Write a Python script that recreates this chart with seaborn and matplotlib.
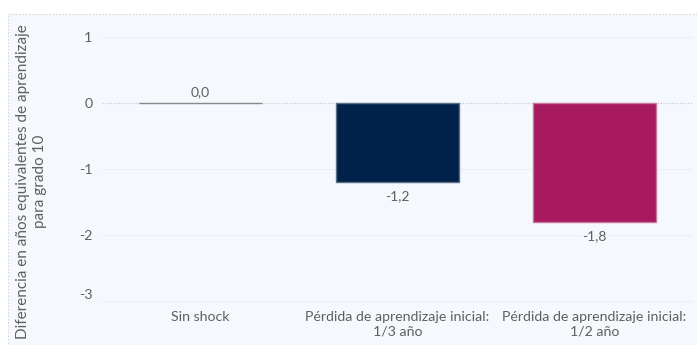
import matplotlib
matplotlib.use("Agg")
import matplotlib.pyplot as plt
import matplotlib.transforms as mtransforms
from matplotlib.patches import Rectangle
import seaborn as sns
import pandas as pd

categories = ["Sin shock",
              "Pérdida de aprendizaje inicial:\n1/3 año",
              "Pérdida de aprendizaje inicial:\n1/2 año"]
values = [0.0, -1.2, -1.8]
colors = ["#8a8a8a", "#00224a", "#a6195f"]
edge_colors = ["#8a8a8a", "#5a6f8a", "#c9749e"]
yticks = [1, 0, -1, -2, -3]

df = pd.DataFrame({"escenario": categories, "diferencia": values})

sns.set_theme(style="white")
plt.rcParams["font.family"] = ["Lato", "DejaVu Sans"]

text_color = "#5f5f5f"
bg = "#f5f8fc"

fig = plt.figure(figsize=(6.97, 3.45), dpi=100, facecolor="white")

# panel background with dotted frame
panel = Rectangle((8 / 697, 0), 1 - 8 / 697, 1 - 14 / 345, transform=fig.transFigure,
                  facecolor=bg, edgecolor="#d6d9dd", linestyle=(0, (1.5, 1.5)),
                  linewidth=0.8, zorder=-10)
fig.patches.append(panel)

ax = fig.add_axes([102 / 697, 1 - 303 / 345, 591 / 697, (303 - 20) / 345])
ax.set_facecolor(bg)

sns.barplot(data=df, x="escenario", y="diferencia", hue="escenario",
            palette=colors, saturation=1, width=0.625, ax=ax, legend=False, zorder=3)

for patch, ec in zip(ax.patches, edge_colors):
    patch.set_edgecolor(ec)
    patch.set_linewidth(1.0)

ax.set_xlim(-0.5, 2.5)
ax.set_ylim(-3.03, 1.25)
ax.set_yticks(yticks)
ax.set_yticklabels([str(t) for t in yticks])
for t in yticks:
    if t != 0:
        ax.axhline(t, color="#eceff3", linewidth=0.8, zorder=1)
ax.axhline(0, color="#c8cbcf", linewidth=0.9, linestyle=(0, (1, 1.2)), zorder=2)

for i, v in enumerate(values):
    lab = f"{v:.1f}".replace(".", ",")
    if v >= 0:
        ax.annotate(lab, (i, v), xytext=(0, 3), textcoords="offset points",
                    ha="center", va="bottom", fontsize=10, color=text_color)
    else:
        ax.annotate(lab, (i, v), xytext=(0, -6), textcoords="offset points",
                    ha="center", va="top", fontsize=10, color=text_color)

ax.set_xlabel("")
ax.set_ylabel("Diferencia en años equivalentes de aprendizaje\npara grado 10",
              fontsize=11, color=text_color, linespacing=1.25)
ax.yaxis.set_label_coords(-0.093, 0.43)
ax.tick_params(axis="both", length=0, labelsize=10.2, labelcolor=text_color)
ax.tick_params(axis="x", pad=6)
ax.tick_params(axis="y", pad=7)
for s in ax.spines.values():
    s.set_visible(False)

# lift the bottom tick label so it sits clear of the category labels
bottom_label = ax.get_yticklabels()[-1]
bottom_label.set_transform(bottom_label.get_transform() +
                           mtransforms.ScaledTranslation(0, 7 / 100, fig.dpi_scale_trans))

fig.savefig("out.png", dpi=100, facecolor="white")
